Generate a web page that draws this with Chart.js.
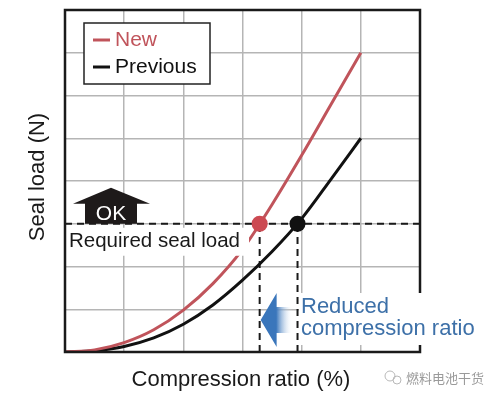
<!DOCTYPE html>
<html>
<head>
<meta charset="utf-8">
<script src="https://cdn.jsdelivr.net/npm/chart.js@4"></script>
<style>
  body { margin: 0; background: #fff; }
  #wrap { width: 493px; height: 398px; }
</style>
</head>
<body>
<div id="wrap"><canvas id="sealChart" width="493" height="398"></canvas></div>
<script>
// values (grid units)
const ratios = [0, 0.5, 1, 1.5, 2, 2.5, 3, 3.5, 4, 4.5, 5]
const newLoad = [0, 0.05, 0.22, 0.52, 0.98, 1.6, 2.4, 3.45, 4.6, 5.8, 7]
const previousLoad = [0, 0.03, 0.13, 0.33, 0.65, 1.1, 1.68, 2.35, 3.12, 4.05, 5]
const requiredLoad = 3
const newRatioAtLoad = 3.29
const previousRatioAtLoad = 3.93
const xRange = [0, 6]
const yRange = [0, 8]

const seriesNames = ["New", "Previous"]
const RED = "#c0545b"
const DOT_RED = "#cc4a52"
const BLUE = "#3d70a8"
const FONT = "'Liberation Sans', Arial, sans-serif"

function toPoints(xs, ys) {
    return xs.map((x, i) => ({ x: x, y: ys[i] }))
}

const annotations = {
    id: "annotations",
    afterDatasetsDraw(chart) {
        const ctx = chart.ctx
        const a = chart.chartArea
        const xs = chart.scales.x
        const ys = chart.scales.y
        const yReq = ys.getPixelForValue(requiredLoad)

        ctx.save()
        // frame
        ctx.strokeStyle = "#1a1a1a"
        ctx.lineWidth = 2.5
        ctx.strokeRect(a.left, a.top, a.right - a.left, a.bottom - a.top)

        // legend box
        ctx.fillStyle = "#fff"
        ctx.fillRect(84, 23, 126, 61)
        ctx.lineWidth = 1.5
        ctx.strokeStyle = "#222"
        ctx.strokeRect(84, 23, 126, 61)
        ctx.lineWidth = 3
        ctx.strokeStyle = RED
        ctx.beginPath(); ctx.moveTo(93, 40); ctx.lineTo(110, 40); ctx.stroke()
        ctx.strokeStyle = "#111"
        ctx.beginPath(); ctx.moveTo(93, 67); ctx.lineTo(110, 67); ctx.stroke()
        ctx.font = "21px " + FONT
        ctx.textBaseline = "middle"
        ctx.textAlign = "left"
        ctx.fillStyle = RED
        ctx.fillText(seriesNames[0], 115, 40)
        ctx.fillStyle = "#111"
        ctx.fillText(seriesNames[1], 115, 67)

        // OK arrow
        ctx.fillStyle = "#1e1a1a"
        ctx.beginPath()
        ctx.moveTo(111, yReq - 36)
        ctx.lineTo(150, yReq - 20)
        ctx.lineTo(137, yReq - 20)
        ctx.lineTo(137, yReq)
        ctx.lineTo(85, yReq)
        ctx.lineTo(85, yReq - 20)
        ctx.lineTo(73, yReq - 20)
        ctx.closePath()
        ctx.fill()
        ctx.fillStyle = "#fff"
        ctx.textAlign = "center"
        ctx.font = "21px " + FONT
        ctx.fillText("OK", 111, yReq - 10)

        // required seal load label
        ctx.fillStyle = "#fff"
        ctx.fillRect(a.left + 2, yReq + 4, 182, 28)
        ctx.fillStyle = "#1a1a1a"
        ctx.textAlign = "left"
        ctx.font = "20.5px " + FONT
        ctx.fillText("Required seal load", 69, yReq + 18)

        // reduced compression ratio label
        const xArrow = xs.getPixelForValue(newRatioAtLoad)
        ctx.fillStyle = "#fff"
        ctx.fillRect(299, 293, 185, 52)
        const grad = ctx.createLinearGradient(xArrow, 0, xArrow + 33, 0)
        grad.addColorStop(0, "#3a76bb")
        grad.addColorStop(0.5, "#3a76bb")
        grad.addColorStop(1, "rgba(255,255,255,0)")
        ctx.fillStyle = grad
        ctx.beginPath()
        ctx.moveTo(xArrow + 1, 320)
        ctx.lineTo(xArrow + 17, 293)
        ctx.lineTo(xArrow + 17, 307)
        ctx.lineTo(xArrow + 33, 307)
        ctx.lineTo(xArrow + 33, 333)
        ctx.lineTo(xArrow + 17, 333)
        ctx.lineTo(xArrow + 17, 347)
        ctx.closePath()
        ctx.fill()
        ctx.fillStyle = BLUE
        ctx.font = "22px " + FONT
        ctx.fillText("Reduced", 301, 307)
        ctx.fillText("compression ratio", 301, 329)

        // axis titles
        ctx.fillStyle = "#1a1a1a"
        ctx.font = "22px " + FONT
        ctx.textAlign = "center"
        ctx.fillText("Compression ratio (%)", 241, 380)
        ctx.save()
        ctx.translate(38, 177)
        ctx.rotate(-Math.PI / 2)
        ctx.fillText("Seal load (N)", 0, 0)
        ctx.restore()

        // watermark
        ctx.fillStyle = "#9a9a9a"
        ctx.font = "13px 'Noto Sans CJK SC', sans-serif"
        ctx.textAlign = "left"
        ctx.fillText("燃料电池干货", 406, 378)
        ctx.strokeStyle = "#b8b8b8"
        ctx.lineWidth = 1
        ctx.beginPath(); ctx.arc(390, 376, 5, 0, Math.PI * 2); ctx.stroke()
        ctx.beginPath(); ctx.arc(397, 380, 4, 0, Math.PI * 2); ctx.stroke()
        ctx.restore()

        // markers on top of everything
        ctx.save()
        ctx.fillStyle = DOT_RED
        ctx.beginPath(); ctx.arc(xs.getPixelForValue(newRatioAtLoad), yReq, 8, 0, Math.PI * 2); ctx.fill()
        ctx.fillStyle = "#111"
        ctx.beginPath(); ctx.arc(xs.getPixelForValue(previousRatioAtLoad), yReq, 8, 0, Math.PI * 2); ctx.fill()
        ctx.restore()
    }
}

const dashed = {
    borderColor: "#1a1a1a",
    borderWidth: 2,
    borderDash: [7, 5],
    pointRadius: 0,
    fill: false,
    order: 5
}

new Chart(document.getElementById("sealChart"), {
    type: "line",
    data: {
        datasets: [
            Object.assign({ label: "required", data: toPoints([xRange[0], xRange[1]], [requiredLoad, requiredLoad]) }, dashed),
            Object.assign({ label: "newDrop", data: toPoints([newRatioAtLoad, newRatioAtLoad], [yRange[0], requiredLoad]) }, dashed),
            Object.assign({ label: "prevDrop", data: toPoints([previousRatioAtLoad, previousRatioAtLoad], [yRange[0], requiredLoad]) }, dashed),
            {
                label: seriesNames[1],
                data: toPoints(ratios, previousLoad),
                borderColor: "#111",
                borderWidth: 3,
                pointRadius: 0,
                cubicInterpolationMode: "monotone",
                order: 3
            },
            {
                label: seriesNames[0],
                data: toPoints(ratios, newLoad),
                borderColor: RED,
                borderWidth: 3,
                pointRadius: 0,
                cubicInterpolationMode: "monotone",
                order: 2
            }
        ]
    },
    options: {
        responsive: false,
        animation: false,
        layout: { padding: { left: 65, top: 10, right: 73, bottom: 46 } },
        plugins: { legend: { display: false }, tooltip: { enabled: false } },
        scales: {
            x: {
                type: "linear",
                min: xRange[0],
                max: xRange[1],
                ticks: { display: false, stepSize: 1 },
                grid: { color: "#b5b5b5", lineWidth: 1.5, drawTicks: false },
                border: { display: false }
            },
            y: {
                type: "linear",
                min: yRange[0],
                max: yRange[1],
                ticks: { display: false, stepSize: 1 },
                grid: { color: "#b5b5b5", lineWidth: 1.5, drawTicks: false },
                border: { display: false }
            }
        }
    },
    plugins: [annotations]
})
</script>
</body>
</html>
